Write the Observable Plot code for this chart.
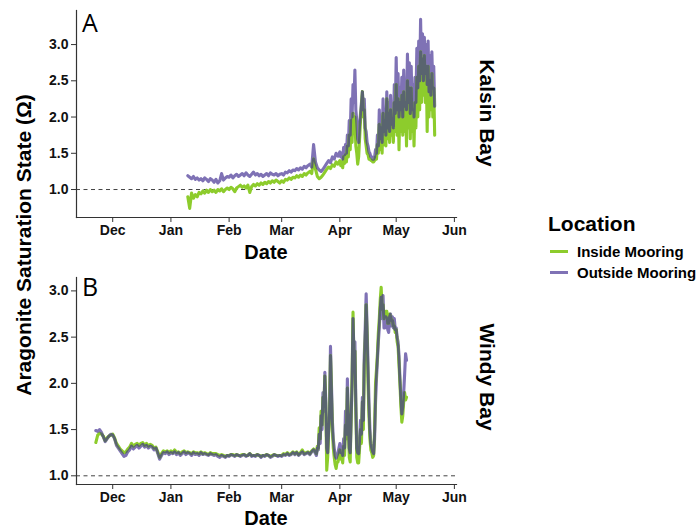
<!DOCTYPE html>
<html>
<head>
<meta charset="utf-8">
<script src="https://cdn.jsdelivr.net/npm/d3@7"></script>
<script src="https://cdn.jsdelivr.net/npm/@observablehq/plot@0.6"></script>
<style>
  html, body { margin: 0; padding: 0; background: #fff; }
  #wrap { position: relative; width: 699px; height: 529px; overflow: hidden; font-family: "Liberation Sans", Arial, sans-serif; color: #000; }
  .abs { position: absolute; white-space: nowrap; line-height: 1; }
</style>
</head>
<body>
<div id="wrap"></div>
<script>
// ---------------- DATA ----------------
const monthTicks = ["2016-12-01","2017-01-01","2017-02-01","2017-03-01","2017-04-01","2017-05-01","2017-06-01"];
const xDomain = ["2016-11-11T17:00:00Z", "2017-06-02T03:00:00Z"];
const threshold = 1.0;
const seriesNames = ["Inside Mooring", "Outside Mooring"];
const yTicks = [1.0, 1.5, 2.0, 2.5, 3.0];
const kalsinYDomain = [0.614, 3.47];
const windyYDomain = [0.906, 3.145];

// Kalsin Bay: daily values 2017-01-10 .. 2017-03-31, then twice-daily values 2017-04-01 .. 2017-05-21
const kalsinDailyStart = "2017-01-10";
const kalsinHalfDayStart = "2017-04-01";
const kalsinOutsideDaily = [
  1.19,1.17,1.15,1.18,1.14,1.16,1.13,
  1.15,1.12,1.16,1.14,1.11,1.15,1.13,
  1.10,1.14,1.09,1.12,1.22,1.13,1.16,1.18,
  1.17,1.20,1.16,1.19,1.21,1.18,1.20,
  1.22,1.19,1.23,1.20,1.18,1.21,1.24,
  1.20,1.22,1.19,1.21,1.18,1.20,1.22,
  1.19,1.23,1.21,1.20,1.22,1.19,1.21,
  1.22,1.20,1.24,1.23,1.26,1.24,1.27,
  1.26,1.29,1.27,1.30,1.28,1.32,1.30,
  1.33,1.35,1.31,1.62,1.38,1.30,1.27,
  1.25,1.28,1.32,1.36,1.40,1.37,1.45,
  1.42,1.50,1.46
];
const kalsinOutsideHalfDay = [
  1.52,1.45, 1.50,1.42, 1.58,1.48, 1.62,1.50, 1.75,1.60, 1.95,1.75, 2.25,2.00,
  2.45,2.20, 2.65,2.10, 1.95,1.70, 1.65,1.90, 2.05,2.20, 2.35,2.10, 2.25,1.85,
  1.80,1.65, 1.60,1.52, 1.50,1.45, 1.45,1.42, 1.42,1.45, 1.55,1.50, 1.75,1.60,
  2.10,1.70, 2.00,1.65, 2.25,1.80, 2.10,1.75, 2.35,1.85, 2.20,1.80, 2.30,1.90,
  2.15,1.85, 2.45,2.05,
  2.82,2.10, 2.60,2.00, 2.40,2.10, 2.55,2.00, 2.65,2.15, 2.50,2.10, 2.87,2.20,
  2.75,2.05, 2.70,2.10, 2.45,2.00, 2.55,2.20, 2.95,2.40, 3.05,2.50, 3.35,2.60,
  3.15,2.50, 3.10,2.60, 3.00,2.45, 3.05,2.35, 2.85,2.30, 2.90,2.40, 2.70,2.15
];
const kalsinInsideDaily = [
  0.90,0.74,0.95,0.88,0.93,0.90,0.96,
  0.94,0.98,0.95,0.99,0.96,1.00,0.97,
  0.99,0.96,1.00,0.98,1.01,0.97,1.00,1.02,
  1.00,1.03,1.01,0.97,1.02,1.04,1.06,
  1.03,1.05,1.02,1.06,0.96,1.04,1.07,
  1.05,1.08,1.06,1.09,1.07,1.10,1.08,
  1.11,1.09,1.12,1.10,1.13,1.11,1.09,
  1.12,1.10,1.14,1.13,1.16,1.14,1.17,
  1.16,1.19,1.17,1.20,1.18,1.22,1.20,
  1.23,1.25,1.22,1.42,1.28,1.18,1.15,
  1.17,1.20,1.24,1.28,1.31,1.29,1.34,
  1.32,1.38,1.35
];
const kalsinInsideHalfDay = [
  1.40,1.33, 1.38,1.30, 1.45,1.36, 1.48,1.38, 1.60,1.45, 1.75,1.55, 1.95,1.65,
  2.05,1.80, 2.00,1.60, 1.50,1.35, 1.45,1.70, 1.95,2.15, 2.35,2.00, 2.10,1.70,
  1.60,1.50, 1.48,1.42, 1.42,1.40, 1.40,1.38, 1.38,1.40, 1.45,1.42, 1.62,1.50,
  1.90,1.55, 1.85,1.50, 2.05,1.62, 1.95,1.60, 2.25,1.70, 2.05,1.65, 2.10,1.75,
  1.95,1.65, 2.20,1.80,
  2.45,1.75, 2.25,1.55, 2.20,1.80, 2.30,1.75, 2.35,1.80, 2.20,1.60, 2.50,1.85,
  2.40,1.70, 2.40,1.80, 2.10,1.60, 2.20,1.85, 2.55,2.00, 2.70,2.10, 2.90,2.20,
  2.80,2.30, 2.85,2.20, 2.70,1.80, 2.70,2.00, 2.50,2.10, 2.60,2.00, 2.40,1.75
];

// Windy Bay: daily values 2016-11-22 .. 2017-03-18, then twice-daily values 2017-03-19 .. 2017-05-06
const windyDailyStart = "2016-11-22";
const windyHalfDayStart = "2017-03-19";
const windyOutsideDaily = [
  1.49,1.48,1.50,1.47,1.42,1.37,1.40,1.43,1.45,
  1.44,1.40,1.33,1.30,1.27,1.24,1.21,
  1.22,1.26,1.28,1.32,1.29,1.31,1.33,
  1.30,1.32,1.34,1.31,1.33,1.30,1.32,
  1.31,1.28,1.30,1.24,1.18,1.22,1.25,
  1.24,1.26,1.23,
  1.25,1.24,1.26,1.23,1.25,1.22,1.24,
  1.26,1.23,1.25,1.24,1.22,1.25,1.23,
  1.24,1.22,1.25,1.23,1.24,1.23,1.22,
  1.24,1.23,1.22,1.23,1.21,1.20,1.22,1.21,1.20,1.22,
  1.21,1.23,1.22,1.21,1.23,1.22,1.21,
  1.22,1.23,1.21,1.22,1.24,1.21,1.22,
  1.21,1.23,1.22,1.20,1.22,1.21,1.23,
  1.22,1.20,1.21,1.23,1.22,1.21,1.22,
  1.21,1.23,1.22,1.24,1.22,1.23,1.25,
  1.23,1.25,1.22,1.24,1.26,1.23,1.24,
  1.25,1.23,1.26,1.28
];
const windyOutsideHalfDay = [
  1.24,1.22, 1.30,1.28, 1.45,1.35, 1.65,1.50, 1.90,1.70, 2.12,1.80, 1.30,1.25,
  1.50,1.70, 2.40,2.00, 1.60,1.40, 1.30,1.22, 1.19,1.22, 1.25,1.30,
  1.35,1.25, 1.28,1.22, 1.40,1.30, 1.70,1.45, 2.05,1.60, 1.30,1.25, 1.60,2.00,
  2.70,2.30, 2.45,1.80, 1.30,1.25, 1.24,1.40, 1.60,1.45, 1.85,1.60, 2.30,2.60,
  2.97,2.60, 2.20,1.80, 1.50,1.35, 1.30,1.26, 1.24,1.40, 1.80,2.05, 2.25,2.45,
  2.60,2.80, 2.93,2.70, 2.95,2.60, 2.60,2.72, 2.70,2.58, 2.55,2.72, 2.75,2.62,
  2.72,2.60, 2.70,2.58,
  2.60,2.50, 2.45,2.30, 2.05,1.85, 1.67,1.75, 1.90,2.10, 2.32,2.25
];
const windyInsideDaily = [
  1.36,1.44,1.46,1.45,1.43,1.38,1.41,1.43,1.44,
  1.45,1.41,1.35,1.32,1.29,1.27,1.25,
  1.26,1.29,1.31,1.35,1.32,1.34,1.35,
  1.33,1.35,1.36,1.33,1.35,1.32,1.34,
  1.33,1.30,1.31,1.26,1.20,1.24,1.27,
  1.26,1.27,1.25,
  1.27,1.25,1.28,1.25,1.26,1.24,1.26,
  1.27,1.25,1.26,1.25,1.24,1.26,1.25,
  1.25,1.24,1.26,1.24,1.25,1.24,1.23,
  1.25,1.24,1.24,1.24,1.23,1.22,1.23,1.22,1.21,1.22,
  1.22,1.23,1.23,1.22,1.23,1.22,1.22,
  1.23,1.23,1.22,1.22,1.24,1.22,1.22,
  1.22,1.23,1.22,1.21,1.22,1.22,1.23,
  1.22,1.21,1.22,1.23,1.22,1.22,1.22,
  1.22,1.24,1.23,1.25,1.23,1.24,1.26,
  1.24,1.26,1.23,1.25,1.28,1.24,1.25,
  1.26,1.24,1.27,1.29
];
const windyInsideHalfDay = [
  1.26,1.24, 1.32,1.30, 1.52,1.40, 1.70,1.55, 1.85,1.75, 2.08,1.75, 1.06,1.20,
  1.45,1.65, 2.30,1.90, 1.50,1.30, 1.20,1.12, 1.08,1.15, 1.15,1.22,
  1.28,1.18, 1.20,1.14, 1.32,1.22, 1.55,1.40, 1.95,1.55, 1.20,1.15, 1.65,2.05,
  2.77,2.25, 2.35,1.70, 1.20,1.14, 1.14,1.30, 1.50,1.35, 1.80,1.50, 2.20,2.45,
  2.85,2.50, 2.00,1.65, 1.40,1.28, 1.25,1.20, 1.22,1.50, 2.00,2.15, 2.32,2.55,
  2.70,2.90, 3.04,2.80, 2.85,2.70, 2.75,2.78, 2.78,2.65, 2.65,2.75, 2.72,2.68,
  2.68,2.62, 2.62,2.55,
  2.58,2.45, 2.40,2.20, 2.00,1.75, 1.58,1.65, 1.80,1.90, 1.82,1.85
];

// ---------------- STYLE ----------------
const colInside = "#8dcc2c";
const colOutside = "#7f72b5";
const colOverlap = "#59646f";
const axisCol = "#333333";
const FONT = '"Liberation Sans", Arial, sans-serif';

function rows(segments) {
  const out = [];
  for (const [start, stepHours, values] of segments) {
    const s = new Date(start + "T00:00:00Z").getTime();
    values.forEach((v, i) => out.push({ date: new Date(s + i * stepHours * 3600000), v }));
  }
  return out;
}

let maskCount = 0;
function addOverlap(svg, W, H) {
  const ns = "http://www.w3.org/2000/svg";
  const lines = svg.querySelectorAll('g[aria-label="line"]');
  if (lines.length < 2) return;
  const outside = lines[0], inside = lines[1];
  const id = "ovmask" + (maskCount++);
  const defs = document.createElementNS(ns, "defs");
  const mask = document.createElementNS(ns, "mask");
  mask.setAttribute("id", id);
  mask.setAttribute("maskUnits", "userSpaceOnUse");
  mask.setAttribute("x", 0); mask.setAttribute("y", 0);
  mask.setAttribute("width", W); mask.setAttribute("height", H);
  const gm = inside.cloneNode(true);
  gm.setAttribute("stroke", "#fff");
  gm.querySelectorAll("[stroke]").forEach(e => e.setAttribute("stroke", "#fff"));
  mask.appendChild(gm);
  defs.appendChild(mask);
  svg.insertBefore(defs, svg.firstChild);
  const wrapG = document.createElementNS(ns, "g");
  wrapG.setAttribute("mask", `url(#${id})`);
  const gp = outside.cloneNode(true);
  gp.setAttribute("stroke", colOverlap);
  gp.querySelectorAll("[stroke]").forEach(e => e.setAttribute("stroke", colOverlap));
  wrapG.appendChild(gp);
  inside.parentNode.insertBefore(wrapG, inside.nextSibling);
}

function panel(inside, outside, yDomain, height, mTop, mBottom) {
  const W = 699;
  const svg = Plot.plot({
    width: W, height,
    marginLeft: 76, marginRight: 243, marginTop: mTop, marginBottom: mBottom,
    style: { fontFamily: FONT, fontSize: "14px", fontWeight: "bold", color: "#111", background: "transparent" },
    x: { type: "utc", domain: xDomain.map(d => new Date(d)) },
    y: { domain: yDomain },
    marks: [
      Plot.ruleY([threshold], { stroke: "#444", strokeWidth: 1, strokeDasharray: "4,3.5" }),
      Plot.line(outside, { x: "date", y: "v", stroke: colOutside, strokeWidth: 3.1 }),
      Plot.line(inside, { x: "date", y: "v", stroke: colInside, strokeWidth: 3.1 }),
      Plot.frame({ anchor: "left", stroke: axisCol, strokeWidth: 1.2 }),
      Plot.frame({ anchor: "bottom", stroke: axisCol, strokeWidth: 1.2 }),
      Plot.axisX({ ticks: monthTicks.map(d => new Date(d + "T00:00:00Z")), tickFormat: d3.utcFormat("%b"),
                   tickSize: 5, tickPadding: 3, label: null, stroke: axisCol }),
      Plot.axisY({ ticks: yTicks, tickFormat: d3.format(".1f"), tickSize: 5, tickPadding: 3, label: null, stroke: axisCol })
    ]
  });
  addOverlap(svg, W, height);
  return svg;
}

const wrap = document.getElementById("wrap");
function place(el, left, top) {
  el.style.position = "absolute"; el.style.left = left + "px"; el.style.top = top + "px";
  wrap.appendChild(el);
}
function label(text, css) {
  const d = document.createElement("div");
  d.className = "abs";
  d.textContent = text;
  Object.assign(d.style, css);
  wrap.appendChild(d);
  return d;
}

const kalsinInside = rows([[kalsinDailyStart, 24, kalsinInsideDaily], [kalsinHalfDayStart, 12, kalsinInsideHalfDay]]);
const kalsinOutside = rows([[kalsinDailyStart, 24, kalsinOutsideDaily], [kalsinHalfDayStart, 12, kalsinOutsideHalfDay]]);
const windyInside = rows([[windyDailyStart, 24, windyInsideDaily], [windyHalfDayStart, 12, windyInsideHalfDay]]);
const windyOutside = rows([[windyDailyStart, 24, windyOutsideDaily], [windyHalfDayStart, 12, windyOutsideHalfDay]]);

place(panel(kalsinInside, kalsinOutside, kalsinYDomain, 245, 10, 28), 0, 0);
place(panel(windyInside, windyOutside, windyYDomain, 245, 12, 26), 0, 265);

// axis titles
label("Date", { left: "266px", top: "252px", fontSize: "20px", fontWeight: "bold", transform: "translate(-50%,-50%)" });
label("Date", { left: "266px", top: "518px", fontSize: "20px", fontWeight: "bold", transform: "translate(-50%,-50%)" });
label("Aragonite Saturation State (Ω)", { left: "23px", top: "245px", fontSize: "21px", fontWeight: "bold", transform: "translate(-50%,-50%) rotate(-90deg)" });

// panel letters
label("A", { left: "82px", top: "10px", fontSize: "25px", fontFamily: '"Open Sans", "Noto Sans", sans-serif' });
label("B", { left: "82px", top: "274px", fontSize: "25px", fontFamily: '"Open Sans", "Noto Sans", sans-serif' });

// facet strip labels
label("Kalsin Bay", { left: "487px", top: "113px", fontSize: "21px", fontWeight: "bold", transform: "translate(-50%,-50%) rotate(90deg)" });
label("Windy Bay", { left: "487px", top: "377px", fontSize: "21px", fontWeight: "bold", transform: "translate(-50%,-50%) rotate(90deg)" });

// legend
label("Location", { left: "548px", top: "223px", fontSize: "21px", fontWeight: "bold", transform: "translateY(-50%)" });
const legendCols = [colInside, colOutside];
seriesNames.forEach((name, i) => {
  const y = 251 + i * 21;
  const key = document.createElement("div");
  Object.assign(key.style, { position: "absolute", left: "550px", top: (y - 1.5) + "px", width: "18px", height: "3px", background: legendCols[i] });
  wrap.appendChild(key);
  label(name, { left: "577px", top: y + "px", fontSize: "15px", fontWeight: "bold", transform: "translateY(-50%)" });
});
</script>
</body>
</html>
